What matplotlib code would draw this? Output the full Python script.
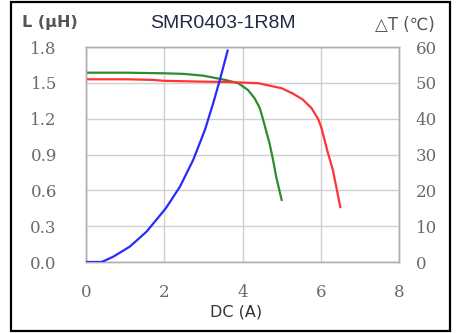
import matplotlib
matplotlib.use("Agg")
import matplotlib.pyplot as plt
from matplotlib.patches import Rectangle

# inductance vs DC current (left axis, uH)
green_x = [0, 1.0, 2.0, 2.5, 3.0, 3.55, 3.89, 4.14, 4.31, 4.44, 4.52, 4.61, 4.69, 4.78, 4.86, 5.0]
green_l = [1.585, 1.585, 1.58, 1.575, 1.56, 1.525, 1.497, 1.44, 1.37, 1.29, 1.20, 1.09, 0.995, 0.855, 0.715, 0.52]

red_x = [0, 1.0, 1.7, 2.0, 3.0, 3.55, 4.4, 5.0, 5.29, 5.54, 5.76, 5.93, 6.01, 6.10, 6.16, 6.31, 6.5]
red_l = [1.53, 1.53, 1.525, 1.517, 1.51, 1.508, 1.497, 1.455, 1.41, 1.36, 1.29, 1.20, 1.13, 1.02, 0.94, 0.77, 0.46]

# temperature rise vs DC current (right axis, degC)
blue_x = [0, 0.4, 0.7, 1.12, 1.55, 2.04, 2.4, 2.74, 3.04, 3.25, 3.42, 3.62]
blue_t = [0, 0, 1.5, 4.3, 8.5, 15, 21, 28.5, 36.9, 44.3, 50.8, 59]

x_ticks = [0, 2, 4, 6, 8]
l_ticks = [0.0, 0.3, 0.6, 0.9, 1.2, 1.5, 1.8]
t_ticks = [0, 10, 20, 30, 40, 50, 60]

fig = plt.figure(figsize=(4.59, 3.33), dpi=100)
ax = fig.add_axes([0.1874, 0.2132, 0.6819, 0.6456])
ax2 = ax.twinx()

grid_c = "#d0d0d0"
lab_c = "#6a6a6a"
tick_font = dict(family="DejaVu Serif", size=12, color=lab_c)

ax.set_xlim(0, 8)
ax.set_ylim(0, 1.8)
ax2.set_ylim(0, 60)
ax.set_xticks(x_ticks)
ax.set_yticks(l_ticks)
ax2.set_yticks(t_ticks)
ax.set_xticklabels([str(v) for v in x_ticks], **tick_font)
ax.set_yticklabels([f"{v:.1f}" for v in l_ticks], **tick_font)
ax2.set_yticklabels([str(v) for v in t_ticks], **tick_font)

ax.grid(True, color=grid_c, linewidth=1.0)
ax.tick_params(axis="x", length=0, pad=16)
ax.tick_params(axis="y", length=0, pad=21)
ax2.tick_params(axis="y", length=0, pad=12)
for a in (ax, ax2):
    for s in a.spines.values():
        s.set_color("#b0b0b0")
        s.set_linewidth(1.0)

ax.plot(green_x, green_l, color="#2e8b2e", linewidth=1.6, zorder=3)
ax.plot(red_x, red_l, color="#ff3333", linewidth=1.6, zorder=3)
ax2.plot(blue_x, blue_t, color="#2a2aff", linewidth=1.6, zorder=3)

fig.text(0.109, 0.932, "L (\u00b5H)", fontsize=11.5, fontweight="bold",
         color="#555555", ha="center", va="center")
fig.text(0.486, 0.928, "SMR0403-1R8M", fontsize=14, family="Liberation Sans",
         color="#1f2a44", ha="center", va="center")
fig.text(0.882, 0.926, "\u25b3T (\u2103)", fontsize=12, color="#555555",
         ha="center", va="center")
fig.text(0.514, 0.062, "DC (A)", fontsize=11.5, color="#333333",
         ha="center", va="center")

fig.patches.append(Rectangle((0.024, 0.006), 0.956, 0.988, transform=fig.transFigure,
                             fill=False, edgecolor="black", linewidth=1.6))

fig.savefig("out.png", dpi=100, facecolor="white")
